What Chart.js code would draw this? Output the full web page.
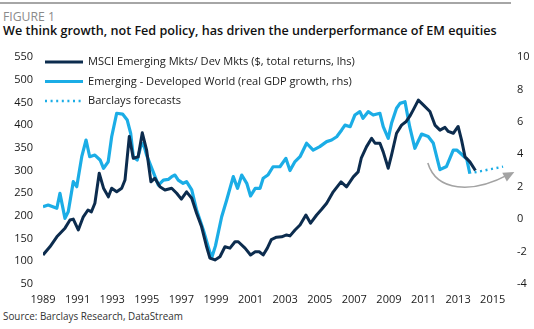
<!DOCTYPE html>
<html><head><meta charset="utf-8">
<script src="https://cdn.jsdelivr.net/npm/chart.js@4.4.1/dist/chart.umd.min.js"></script>
<style>
html,body{margin:0;padding:0;background:#fff;width:534px;height:329px;overflow:hidden;}
#wrap{position:relative;width:534px;height:329px;}
canvas{position:absolute;left:0;top:0;}
.t{position:absolute;white-space:nowrap;font-family:"Open Sans",sans-serif;line-height:1;}
#rule{position:absolute;left:0;top:2px;width:511px;height:2px;background:#a6a6a6;}
</style></head><body>
<div id="wrap">
<div id="rule"></div>
<div class="t" id="fig" style="left:3px;top:11px;font-size:13px;color:#8a8a8a;">FIGURE 1</div>
<div class="t" id="title" style="left:3px;top:25px;font-size:13.5px;font-weight:600;color:#111;">We think growth, not Fed policy, has driven the underperformance of EM equities</div>
<div class="t" id="src" style="left:3px;top:312px;font-size:11.5px;color:#333;">Source: Barclays Research, DataStream</div>
<canvas id="c" width="534" height="329"></canvas>
</div>
<script>
// ---- data ----
const xTickYears = [1989,1991,1993,1995,1997,1999,2001,2003,2005,2007,2009,2011,2013,2015];
const leftTicks = [50,100,150,200,250,300,350,400,450,500,550];
const rightTicks = [-4,-2,0,2,4,6,8,10];
const seriesNames = ["MSCI Emerging Mkts/ Dev Mkts ($, total returns, lhs)","Emerging - Developed World (real GDP growth, rhs)","Barclays forecasts"];

const msciYears = [1989.0,1989.4,1989.8,1990.27,1990.56,1990.75,1991.04,1991.33,1991.6,1991.8,1992.0,1992.25,1992.5,1992.78,1992.97,1993.26,1993.55,1993.74,1993.99,1994.22,1994.5,1994.74,1994.99,1995.24,1995.47,1995.76,1996.05,1996.44,1996.73,1997.0,1997.3,1997.6,1997.88,1998.17,1998.46,1998.65,1998.94,1999.23,1999.52,1999.81,2000.1,2000.29,2000.68,2001.0,2001.27,2001.5,2001.73,2001.97,2002.2,2002.5,2002.8,2003.08,2003.28,2003.57,2003.86,2004.2,2004.47,2004.82,2005.1,2005.4,2005.78,2006.23,2006.55,2006.94,2007.22,2007.4,2007.7,2008.0,2008.2,2008.48,2008.67,2008.96,2009.15,2009.44,2009.73,2010.0,2010.2,2010.4,2010.7,2011.0,2011.37,2011.66,2011.95,2012.24,2012.43,2012.72,2013.0,2013.2,2013.4,2013.68,2014.0];
const msciValues = [114,132,154,173,191,193,169,198,213,209,228,294,261,242,261,253,261,279,375,327,330,383,345,275,283,264,257,261,250,237,253,239,206,176,132,107,103,110,132,129,143,143,129,114,121,121,114,129,148,153,154,158,156,169,180,202,184,202,214,228,253,275,264,286,297,327,352,371,360,360,341,305,334,382,400,408,419,433,455,444,430,400,389,395,386,382,397,367,330,319,300];

const gdpYears = [1989.0,1989.3,1989.8,1989.98,1990.27,1990.46,1990.75,1990.95,1991.24,1991.49,1991.7,1992.0,1992.3,1992.5,1992.77,1992.97,1993.26,1993.6,1993.87,1994.07,1994.22,1994.45,1994.65,1994.8,1994.99,1995.37,1995.67,1995.96,1996.24,1996.44,1996.63,1996.82,1997.1,1997.3,1997.6,1997.88,1998.27,1998.55,1998.75,1998.97,1999.33,1999.62,2000.0,2000.25,2000.49,2000.78,2001.0,2001.27,2001.55,2001.73,2002.0,2002.3,2002.7,2003.04,2003.28,2003.57,2003.86,2004.24,2004.62,2005.0,2005.4,2005.69,2005.98,2006.27,2006.46,2006.76,2007.03,2007.32,2007.5,2007.8,2008.09,2008.48,2008.67,2008.96,2009.15,2009.44,2009.64,2009.93,2010.2,2010.5,2010.89,2011.27,2011.56,2011.95,2012.33,2012.72,2012.92,2013.2,2013.5,2013.68];
const gdpValues = [0.77,0.87,0.67,1.59,0.05,0.46,2.31,2.0,3.85,4.88,3.85,3.95,3.65,3.13,3.54,5.08,6.53,6.48,6.11,5.29,3.85,3.65,4.47,4.68,3.95,2.92,2.1,2.41,2.45,2.62,2.72,2.41,2.21,2.31,1.8,0.56,-0.67,-1.7,-2.4,-1.65,0.15,1.18,2.62,1.9,2.72,2.21,1.43,1.9,1.9,2.52,2.72,3.23,3.23,3.75,3.0,3.55,3.85,4.68,4.26,4.47,4.78,4.88,5.08,5.5,5.8,5.7,6.42,6.63,6.22,6.63,6.42,6.53,5.7,4.98,5.91,6.84,7.14,7.24,5.7,4.37,5.25,5.1,4.7,3.05,3.25,4.26,4.26,4.0,3.7,2.8];

const forecastYears = [2013.95,2015.6];
const forecastValues = [2.88,3.24];

// arrow annotation in data units (year, rhs value)
const arrowPath = [[2011.25,3.46],[2011.75,1.7],[2013.8,1.55],[2016.25,2.9]];

// ---- build ----
const zip = (xs, ys) => xs.map((x,i)=>({x:x,y:ys[i]}));
const NAVY = '#0c2c4e', CYAN = '#1badE6', FONT = '"Open Sans", sans-serif';

function fitText(id, w){
  const el = document.getElementById(id);
  const fs = parseFloat(el.style.fontSize);
  const cw = el.getBoundingClientRect().width;
  el.style.fontSize = (fs * w / cw).toFixed(2) + 'px';
}
fitText('fig', 52); fitText('title', 494); fitText('src', 180);

const overlay = {
  id: 'overlay',
  afterDatasetsDraw(chart){
    const ctx = chart.ctx, ca = chart.chartArea;
    const xs = chart.scales.x, yr = chart.scales.y1;
    // arrow
    const p = arrowPath.map(a => [xs.getPixelForValue(a[0]), yr.getPixelForValue(a[1])]);
    ctx.save();
    ctx.strokeStyle = '#a3a3a3'; ctx.fillStyle = '#a3a3a3'; ctx.lineWidth = 1.6;
    ctx.beginPath(); ctx.moveTo(p[0][0],p[0][1]);
    ctx.bezierCurveTo(p[1][0],p[1][1],p[2][0],p[2][1],p[3][0]-6,p[3][1]+2.5);
    ctx.stroke();
    const ang = Math.atan2(p[3][1]-p[2][1], p[3][0]-p[2][0]);
    ctx.translate(p[3][0],p[3][1]); ctx.rotate(ang);
    ctx.beginPath(); ctx.moveTo(0,0); ctx.lineTo(-11,-5); ctx.lineTo(-11,5); ctx.closePath(); ctx.fill();
    ctx.restore();
    // legend
    ctx.save();
    let fs = 12;
    ctx.font = fs + 'px ' + FONT;
    fs = fs * 267 / ctx.measureText(seriesNames[0]).width;
    ctx.font = fs.toFixed(2) + 'px ' + FONT;
    ctx.fillStyle = '#1a1a1a'; ctx.textBaseline = 'middle';
    const lx = ca.left + 2, tx = ca.left + 45;
    const rows = [ca.top + 5, ca.top + 24.5, ca.top + 44];
    const styles = [[NAVY,3,[]],[CYAN,3.2,[]],[CYAN,2.4,[2,3.6]]];
    rows.forEach((y,i)=>{
      ctx.strokeStyle = styles[i][0]; ctx.lineWidth = styles[i][1]; ctx.setLineDash(styles[i][2]);
      ctx.beginPath(); ctx.moveTo(lx,y); ctx.lineTo(lx+38,y); ctx.stroke();
      ctx.fillText(seriesNames[i], tx, y);
    });
    ctx.restore();
  }
};

new Chart(document.getElementById('c'), {
  type: 'line',
  data: {
    datasets: [
      {label: seriesNames[1], data: zip(gdpYears, gdpValues), yAxisID: 'y1', borderColor: CYAN, borderWidth: 3.2, pointRadius: 0, tension: 0, borderJoinStyle: 'round', order: 2},
      {label: seriesNames[0], data: zip(msciYears, msciValues), yAxisID: 'y', borderColor: NAVY, borderWidth: 3, pointRadius: 0, tension: 0, borderJoinStyle: 'round', order: 1},
      {label: seriesNames[2], data: zip(forecastYears, forecastValues), yAxisID: 'y1', borderColor: CYAN, borderWidth: 2.4, borderDash: [2,3.6], pointRadius: 0, tension: 0, order: 0}
    ]
  },
  options: {
    responsive: false, animation: false, devicePixelRatio: 1,
    layout: {padding: {top: 57, left: 0, right: 0, bottom: 0}},
    plugins: {legend: {display: false}, tooltip: {enabled: false}},
    scales: {
      x: {
        type: 'linear', min: 1989, max: 2016,
        grid: {display: false, drawTicks: false}, border: {display: false},
        afterBuildTicks: s => { s.ticks = xTickYears.map(v => ({value: v})); },
        afterFit: s => { s.height = 45; },
        ticks: {padding: 9, color: '#1a1a1a', font: {family: FONT, size: 11}, maxRotation: 0, autoSkip: false, callback: v => String(v)}
      },
      y: {
        position: 'left', min: 50, max: 550,
        grid: {display: false, drawTicks: false}, border: {display: false},
        afterBuildTicks: s => { s.ticks = leftTicks.map(v => ({value: v})); },
        afterFit: s => { s.width = 43; },
        ticks: {padding: 10, color: '#1a1a1a', font: {family: FONT, size: 11}}
      },
      y1: {
        position: 'right', min: -4, max: 10,
        grid: {display: false, drawTicks: false}, border: {display: false},
        afterBuildTicks: s => { s.ticks = rightTicks.map(v => ({value: v})); },
        afterFit: s => { s.width = 24; },
        ticks: {padding: 7, color: '#1a1a1a', font: {family: FONT, size: 11}}
      }
    }
  },
  plugins: [overlay]
});
</script>
</body></html>
